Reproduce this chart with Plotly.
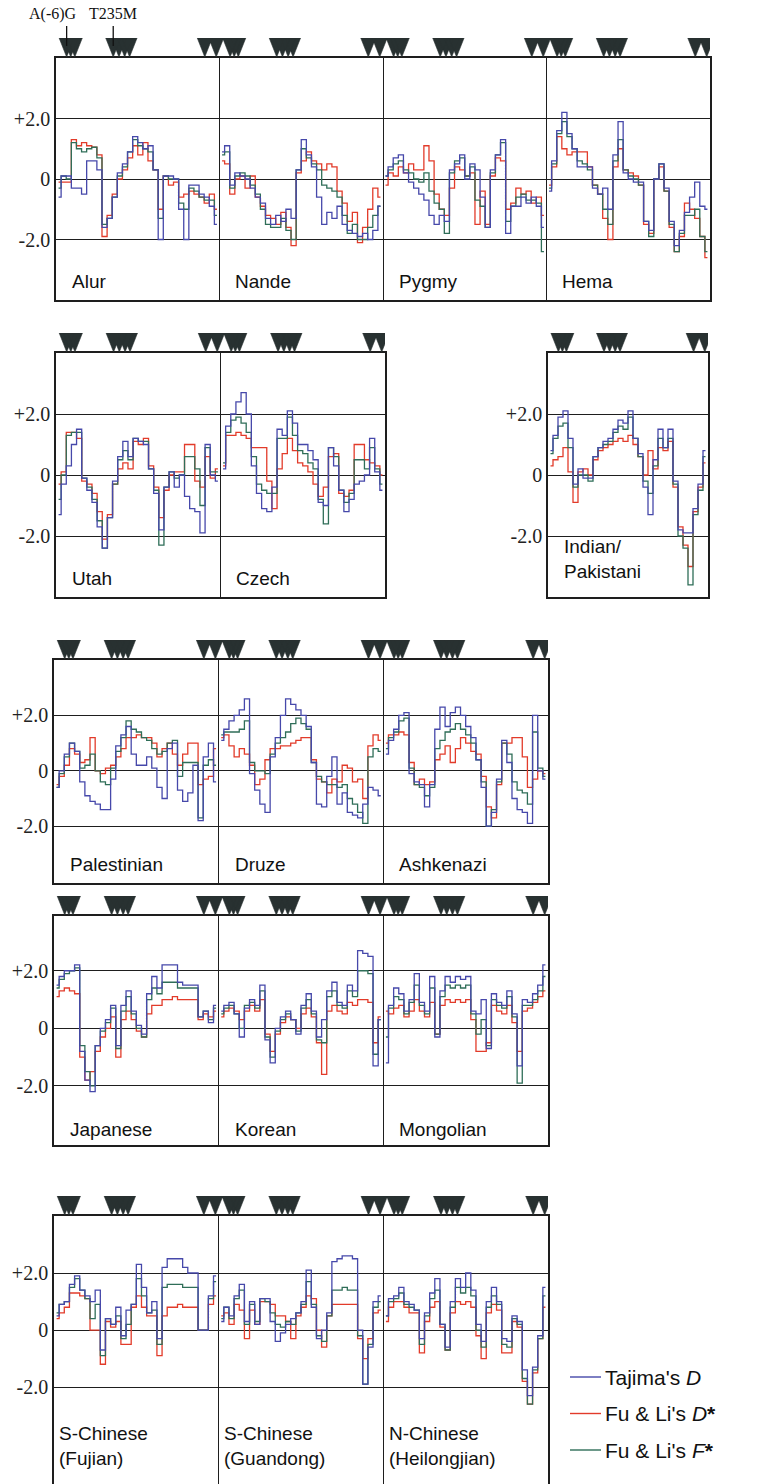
import plotly.graph_objects as go

W, H = 759, 1484

# ---------------- data ----------------
ALUR_T = [-0.6,0.1,0.1,-0.3,-0.3,-0.5,0.6,0.6,0.3,-1.6,-1.3,-0.6,0.2,0.5,0.9,1.4,1.2,1.0,1.1,0.3,-2.0,0.1,0.1,0.0,-1.0,-2.0,-0.2,-0.2,-0.5,-0.6,-0.9,-1.5]
ALUR_D = [-0.1,-0.1,-0.1,1.3,1.1,1.2,1.1,1.05,0.8,-1.9,-1.2,-0.5,0.0,0.3,0.7,1.1,0.8,1.2,0.6,0.3,-1.0,0.1,-0.2,-0.1,-0.6,-0.5,-0.4,-0.5,-0.6,-0.8,-0.5,-1.0]
ALUR_F = [-0.3,0.1,0.0,1.2,1.0,0.9,1.0,1.05,0.7,-1.5,-1.3,-0.6,0.1,0.4,0.9,1.3,1.1,1.0,0.9,0.3,-1.3,0.1,0.0,0.0,-0.8,-1.0,-0.3,-0.4,-0.6,-0.7,-0.7,-1.2]

NANDE_T = [0.9,1.1,-0.2,0.2,0.1,0.0,-0.3,-0.6,-0.8,-1.3,-1.5,-1.2,-1.4,-1.0,-1.3,0.3,1.3,0.8,0.4,-0.6,-1.5,-1.1,-1.3,-0.9,-1.5,-1.7,-1.8,-1.9,-1.8,-2.0,-1.7,-0.9]
NANDE_D = [0.6,0.5,-0.5,0.0,0.1,-0.3,0.1,-0.6,-0.9,-1.2,-1.3,-1.5,-1.1,-1.6,-2.2,0.2,0.6,0.9,0.6,0.5,0.3,0.5,0.4,-0.4,-0.8,-1.4,-1.1,-2.1,-1.6,-1.0,-0.3,-0.6]
NANDE_F = [0.8,0.9,-0.3,0.1,0.2,0.1,-0.2,-0.5,-1.0,-1.5,-1.6,-1.6,-1.3,-1.7,-2.0,0.3,1.0,0.7,0.5,0.3,-0.2,-0.3,-0.4,-0.6,-1.2,-1.8,-1.5,-2.0,-2.0,-1.6,-1.2,-0.9]

PYGMY_T = [0.1,0.4,0.7,0.8,0.2,-0.1,-0.3,-0.5,-0.7,-1.2,-1.5,-1.2,-1.4,0.3,0.5,0.8,0.0,0.5,0.3,-0.6,-1.6,0.3,0.8,1.3,-1.8,-0.9,-0.9,-0.6,-0.8,-0.6,-0.9,-1.6]
PYGMY_D = [-0.2,0.2,0.1,0.4,0.2,0.5,0.3,0.3,1.1,0.6,-0.5,-1.0,-1.2,-0.3,0.4,0.3,0.1,0.2,-1.5,-0.4,-1.5,0.1,0.7,0.6,-1.0,-0.8,-0.3,-0.5,-0.4,-0.8,-0.6,-1.2]
PYGMY_F = [0.1,0.3,0.5,0.6,0.3,0.2,0.0,-0.1,0.2,-0.4,-0.8,-1.0,-1.8,0.2,0.6,0.7,0.1,0.4,-0.7,-0.9,-1.6,0.2,0.8,1.2,-1.4,-0.9,-0.6,-0.5,-0.7,-0.7,-0.8,-2.4]

HEMA_T = [-0.4,0.6,1.6,2.2,1.5,1.0,0.4,0.4,0.4,-0.3,-0.5,-0.3,-1.0,0.8,1.9,0.2,0.0,-0.1,-0.1,-1.4,-1.7,0.0,0.5,-0.3,-1.4,-2.2,-1.7,-1.1,-0.6,-0.1,-0.9,-1.0]
HEMA_D = [-0.2,0.4,1.4,1.0,0.8,0.9,0.9,0.9,0.4,-0.2,-0.5,-1.3,-2.0,0.4,1.0,0.3,0.2,0.1,-0.2,-1.5,-1.8,0.0,0.4,-0.4,-1.6,-2.4,-1.9,-0.8,-1.0,-1.3,-1.9,-2.6]
HEMA_F = [-0.3,0.5,1.5,1.9,1.4,1.0,0.6,0.5,0.3,-0.2,-0.5,-1.0,-1.5,0.6,1.3,0.3,0.1,0.0,-0.2,-1.4,-1.9,0.0,0.5,-0.4,-1.5,-2.4,-1.8,-1.2,-1.2,-1.0,-1.9,-2.4]

UTAH_T = [-1.3,-0.3,0.3,1.0,1.5,-0.1,-0.5,-0.9,-1.7,-2.4,-1.4,-0.2,0.6,1.1,0.6,1.2,1.1,1.0,0.2,-0.6,-1.8,-0.4,0.1,-0.4,0.0,-0.7,-1.1,-1.2,-1.9,1.0,0.0,-0.2]
UTAH_D = [-0.3,0.1,1.4,1.4,1.2,-0.2,-0.3,-0.6,-1.2,-2.1,-1.3,-0.3,0.2,0.4,0.2,1.1,1.0,1.2,0.3,-0.4,-1.4,-0.5,0.0,0.1,0.1,1.0,1.0,-0.2,-0.4,0.6,-0.1,0.2]
UTAH_F = [-0.8,0.0,1.3,1.4,1.4,-0.1,-0.4,-0.8,-1.5,-2.4,-1.4,-0.3,0.5,0.8,0.5,1.2,1.1,1.1,0.2,-0.5,-2.3,-0.4,0.1,-0.1,0.0,0.6,0.6,0.2,-1.0,0.9,0.1,0.1]

CZECH_T = [0.2,1.6,2.0,2.4,2.7,2.0,0.3,-0.6,-1.1,-1.2,-0.4,1.5,1.3,2.1,1.7,1.0,1.0,0.8,0.5,-0.9,-1.0,0.9,0.3,-0.5,-1.2,-0.8,-0.3,-0.2,0.0,1.2,0.1,-0.5]
CZECH_D = [0.3,1.3,1.3,1.4,1.3,1.2,0.9,0.9,0.9,-0.2,-1.1,0.2,0.7,1.2,0.8,0.4,0.3,0.1,-0.3,-0.7,-0.4,0.6,0.7,-0.6,-0.7,-0.5,1.0,1.0,0.5,0.4,0.3,0.0]
CZECH_F = [0.4,1.4,1.8,1.9,1.7,1.4,0.6,-0.3,-0.5,-0.6,-0.6,1.2,1.2,1.9,1.3,0.8,0.7,0.4,0.2,-0.8,-1.6,0.9,0.6,-0.5,-0.9,-0.6,0.5,0.5,0.2,0.9,0.2,-0.3]

INDIAN_T = [0.8,1.3,1.9,2.1,1.2,-0.3,0.2,-0.1,-0.1,0.6,0.9,1.1,1.2,1.5,1.8,1.7,2.1,1.2,0.7,-0.4,-1.3,0.5,1.5,0.9,1.5,-0.2,-1.8,-1.9,-1.9,-1.1,-0.3,0.8]
INDIAN_D = [0.3,0.5,0.6,0.9,0.1,-0.9,0.1,0.2,0.0,0.5,0.8,0.9,1.0,1.1,1.2,1.1,1.3,1.0,0.6,0.0,0.8,0.2,0.9,0.8,1.1,-0.4,-1.7,-2.3,-3.0,-1.2,-0.4,0.4]
INDIAN_F = [0.7,1.2,1.6,1.7,0.9,-0.4,0.0,0.0,-0.2,0.6,0.9,1.0,1.1,1.4,1.6,1.5,1.9,1.2,0.6,-0.2,-0.6,0.3,1.2,0.9,1.2,-0.3,-2.0,-2.4,-3.6,-1.3,-0.5,0.6]

PALEST_T = [-0.6,0.0,0.6,1.0,0.7,-0.4,-0.9,-1.1,-1.2,-1.4,-1.4,-0.3,0.9,1.3,1.6,0.6,0.2,0.2,0.5,0.1,-0.6,-1.0,0.8,1.0,-0.7,-1.1,-0.8,0.2,-1.8,0.5,1.0,-0.4]
PALEST_D = [-0.5,-0.2,0.2,0.8,0.6,0.3,0.4,1.2,0.0,-0.1,0.1,0.2,0.5,0.8,1.2,1.2,1.3,1.2,1.2,1.0,0.5,0.8,1.0,0.6,0.2,0.6,1.0,1.0,-0.5,-0.3,-0.2,0.8]
PALEST_F = [-0.6,-0.1,0.5,1.0,0.7,0.1,0.2,0.6,0.0,-0.4,-0.5,0.1,0.7,1.2,1.8,1.5,1.4,1.2,1.1,0.8,0.6,0.7,1.0,1.1,-0.2,0.3,0.3,0.3,-1.7,0.2,0.4,0.2]

DRUZE_T = [1.1,1.5,1.8,2.0,2.2,2.6,-0.1,-0.7,-1.2,-1.5,0.5,1.2,2.0,2.6,2.4,2.2,2.0,1.6,0.3,-1.2,-1.3,-0.2,0.5,-1.2,-0.8,-1.5,-1.6,-1.7,-1.2,-0.6,-0.7,-0.9]
DRUZE_D = [1.2,1.3,0.9,0.5,0.8,0.6,0.2,-0.5,-0.3,0.4,0.8,0.8,0.9,0.9,1.0,1.1,1.2,1.2,0.4,-0.3,-0.4,-0.8,-0.3,-0.4,0.2,0.1,-0.4,-0.3,-1.0,0.9,1.3,1.1]
DRUZE_F = [1.3,1.4,1.4,1.4,1.5,1.8,0.3,0.0,0.0,-0.1,0.6,1.0,1.2,1.4,1.7,1.9,1.7,1.5,0.3,-0.2,-0.4,-0.5,-0.5,-0.6,-0.5,-1.0,-1.2,-1.5,-1.9,0.5,0.8,0.7]

ASHK_T = [0.6,1.1,1.5,2.0,2.1,-0.1,-0.4,-0.5,-1.3,-0.5,1.5,2.3,1.6,2.1,2.3,2.0,1.6,1.2,0.4,-0.6,-2.0,-1.5,-0.3,1.1,0.3,-1.0,-1.4,-1.5,-1.9,2.0,0.0,-0.3]
ASHK_D = [1.0,1.3,1.3,1.4,1.3,0.3,-0.5,-0.3,-0.5,-0.4,0.4,0.6,0.9,0.3,0.8,1.2,1.0,0.7,0.6,-0.2,-1.3,-1.7,-0.5,1.0,1.0,1.2,1.2,0.5,-0.6,-0.3,0.0,-0.1]
ASHK_F = [0.8,1.2,1.4,1.8,1.9,0.1,-0.5,-0.6,-0.9,-0.6,0.8,1.1,1.4,1.5,1.7,1.5,1.3,1.0,0.4,-0.4,-2.0,-1.4,-0.4,1.0,0.6,-0.4,-0.7,-0.8,-1.2,1.4,0.1,-0.2]

JAPAN_T = [1.5,1.8,2.0,2.0,2.2,-0.8,-1.8,-2.2,-0.6,0.0,0.3,0.8,-0.6,0.8,1.3,0.6,0.1,-0.2,1.2,1.8,1.4,2.2,2.2,2.2,1.6,1.5,1.5,1.5,0.4,0.6,0.2,0.8]
JAPAN_D = [1.1,1.3,1.4,1.3,1.2,-1.0,-1.8,-1.5,-0.8,-0.3,0.0,0.4,-1.0,0.3,0.6,0.3,-0.1,-0.3,0.5,0.8,0.8,1.0,1.0,1.1,1.0,1.0,1.0,1.0,0.3,0.5,0.4,0.6]
JAPAN_F = [1.4,1.7,1.9,2.0,2.1,-0.6,-1.5,-2.0,-0.6,-0.1,0.2,0.7,-0.7,0.6,1.1,0.5,0.0,-0.3,1.0,1.4,1.2,1.6,1.6,1.6,1.4,1.4,1.4,1.4,0.4,0.6,0.3,0.7]

KOREA_T = [0.6,0.8,0.9,0.5,-0.3,0.7,1.0,0.8,1.5,-0.4,-1.2,0.0,0.4,0.6,0.3,-0.2,0.8,1.2,0.6,-0.3,0.3,1.3,1.6,0.9,0.8,1.5,1.3,2.7,2.6,2.5,-1.3,0.3]
KOREA_D = [0.4,0.6,0.7,0.6,0.3,0.6,0.8,0.6,1.0,-0.2,-0.8,-0.2,0.2,0.4,0.3,0.0,0.5,0.7,0.4,-0.5,-1.6,0.6,0.8,0.6,0.5,0.9,0.8,1.0,1.0,0.9,-0.5,0.4]
KOREA_F = [0.5,0.7,0.8,0.5,0.0,0.8,0.9,0.7,1.3,-0.3,-1.0,-0.1,0.3,0.5,0.3,-0.1,0.7,1.0,0.5,-0.4,-0.5,1.1,1.3,0.8,0.7,1.3,1.1,2.0,2.0,1.9,-0.9,0.3]

MONGO_T = [-1.2,0.8,1.4,1.2,0.6,1.0,1.9,0.9,0.6,1.8,-0.3,1.3,1.8,1.6,1.8,1.7,1.8,0.6,0.5,1.0,-0.7,1.2,0.9,0.8,1.3,0.5,-1.3,1.0,0.9,1.2,1.5,2.2]
MONGO_D = [0.6,0.5,0.7,0.8,0.4,0.6,1.0,0.6,0.4,0.9,-0.2,0.8,1.0,0.9,1.0,0.9,1.0,0.3,-0.8,-0.8,-0.5,0.8,0.6,0.5,0.8,0.2,-0.8,0.6,0.7,0.9,1.1,1.3]
MONGO_F = [-0.3,0.7,1.1,1.0,0.5,0.9,1.5,0.8,0.5,1.4,-0.2,1.1,1.5,1.4,1.5,1.4,1.5,0.5,-0.2,0.3,-0.6,1.0,0.8,0.7,1.1,0.4,-1.9,0.8,0.8,1.0,1.3,1.8]

FUJIAN_T = [0.5,0.9,1.0,1.6,1.9,1.4,1.2,1.0,1.4,-0.7,0.4,0.2,0.8,-0.2,0.7,0.9,2.3,1.5,0.6,1.0,-0.3,2.2,2.5,2.5,2.5,2.2,2.0,2.0,0.0,0.0,1.2,1.9]
FUJIAN_D = [0.4,0.6,0.8,1.3,1.3,1.2,1.1,0.0,0.0,-1.2,0.3,0.1,0.3,-0.5,-0.5,0.8,1.2,0.8,0.5,0.5,-0.9,0.5,0.8,0.8,0.9,0.8,0.8,0.8,0.0,0.0,0.9,1.2]
FUJIAN_F = [0.6,0.9,1.0,1.5,1.8,1.4,1.1,0.4,0.9,-0.9,0.4,0.2,0.5,-0.3,0.2,0.9,1.8,1.2,0.6,0.7,-0.5,1.5,1.6,1.6,1.6,1.5,1.5,1.5,0.0,0.0,1.1,1.7]

GUAND_T = [0.3,0.8,0.5,1.2,1.6,0.3,1.0,0.2,1.1,1.1,0.3,-0.4,-0.1,0.2,0.4,0.6,1.0,2.1,0.8,-0.3,0.0,0.6,2.4,2.5,2.6,2.6,2.5,0.0,-1.9,-0.6,1.0,1.2]
GUAND_D = [0.5,0.6,0.2,0.9,0.7,-0.3,0.7,0.2,1.0,1.0,0.9,0.5,0.5,0.3,-0.3,0.5,0.8,1.2,1.1,0.0,-0.6,0.5,0.9,0.9,0.9,0.9,0.9,-0.3,-1.0,-0.3,0.6,0.7]
GUAND_F = [0.4,0.8,0.4,1.1,1.4,0.2,0.9,0.3,1.1,1.0,0.6,0.2,0.1,0.3,0.2,0.6,0.9,1.7,0.9,-0.2,-0.4,0.5,1.4,1.4,1.5,1.4,1.4,-0.2,-1.9,-0.5,0.8,1.0]

HEILO_T = [0.5,1.1,1.2,1.5,1.0,0.9,0.7,-0.3,0.6,1.3,1.8,0.2,-0.6,1.0,1.8,1.5,2.0,1.4,0.2,-0.4,1.0,1.5,1.0,-0.3,-0.4,0.5,0.3,-1.4,-2.3,-1.3,-0.2,1.5]
HEILO_D = [0.3,0.8,1.0,1.0,0.8,0.6,0.6,-0.8,0.3,0.8,1.0,0.1,-0.7,0.6,1.0,0.9,1.0,0.8,-0.2,-1.0,0.6,0.9,0.7,-0.8,-0.8,0.3,0.1,-1.8,-2.6,-1.5,-0.3,0.8]
HEILO_F = [0.5,1.0,1.1,1.3,0.9,0.8,0.7,-0.5,0.5,1.1,1.4,0.2,-0.7,0.8,1.5,1.3,1.5,1.2,0.0,-0.6,0.8,1.2,0.9,-0.5,-0.6,0.4,0.2,-1.7,-2.6,-1.4,-0.3,1.2]

# SNP marker positions along each population window (fraction of panel)
SNP_POS = [0.065, 0.09, 0.115, 0.35, 0.385, 0.42, 0.45, 0.91, 0.98]
SNP_NAMES = [("A(-6)G", 0.065), ("T235M", 0.35)]
YTICK_VALS = [-2, 0, 2]
YTICK_TEXT = ["-2.0", "0", "+2.0"]
SERIES_NAMES = ["Tajima's <i>D</i>", "Fu & Li's <i>D</i><b>*</b>", "Fu & Li's <i>F</i><b>*</b>"]

# ---------------- styles / geometry ----------------
BLUE, RED, GREEN = "#4648aa", "#e23b2a", "#2f6e58"
TRI_COLOR = "#283131"
FRAME = "#1e1e1e"
SANS = "Liberation Sans, Arial, sans-serif"
SERIF = "Liberation Serif, Times New Roman, serif"

ROWS = [
    dict(pops=[("Alur", ALUR_T, ALUR_D, ALUR_F), ("Nande", NANDE_T, NANDE_D, NANDE_F),
               ("Pygmy", PYGMY_T, PYGMY_D, PYGMY_F), ("Hema", HEMA_T, HEMA_D, HEMA_F)],
         x0=56, x1=710, top=58, bottom=300, yr=(-4, 4), lab_y=-3.4, lab_dx=0.085),
    dict(pops=[("Utah", UTAH_T, UTAH_D, UTAH_F), ("Czech", CZECH_T, CZECH_D, CZECH_F)],
         x0=56, x1=385, top=353, bottom=597, yr=(-4, 4), lab_y=-3.4, lab_dx=0.085),
    dict(pops=[("Indian/<br>Pakistani", INDIAN_T, INDIAN_D, INDIAN_F)],
         x0=548, x1=708, top=353, bottom=597, yr=(-4, 4), lab_y=-2.75, lab_dx=0.09),
    dict(pops=[("Palestinian", PALEST_T, PALEST_D, PALEST_F), ("Druze", DRUZE_T, DRUZE_D, DRUZE_F),
               ("Ashkenazi", ASHK_T, ASHK_D, ASHK_F)],
         x0=54, x1=548, top=660, bottom=883, yr=(-4.05, 4), lab_y=-3.4, lab_dx=0.085),
    dict(pops=[("Japanese", JAPAN_T, JAPAN_D, JAPAN_F), ("Korean", KOREA_T, KOREA_D, KOREA_F),
               ("Mongolian", MONGO_T, MONGO_D, MONGO_F)],
         x0=54, x1=548, top=916, bottom=1145, yr=(-4.05, 3.9), lab_y=-3.5, lab_dx=0.085),
    dict(pops=[("S-Chinese<br>(Fujian)", FUJIAN_T, FUJIAN_D, FUJIAN_F),
               ("S-Chinese<br>(Guandong)", GUAND_T, GUAND_D, GUAND_F),
               ("N-Chinese<br>(Heilongjian)", HEILO_T, HEILO_D, HEILO_F)],
         x0=54, x1=548, top=1216, bottom=1484, yr=(-5.4, 4), lab_y=-4.05, lab_dx=0.02),
]

TRI_H = 19      # px height of SNP triangles
TRI_HALF = 7.5  # px half width of SNP triangles

fig = go.Figure()
layout = dict(width=W, height=H, margin=dict(l=0, r=0, t=0, b=0),
              paper_bgcolor="white", plot_bgcolor="white", showlegend=False)
annotations, shapes = [], []

def ax_name(n, kind):
    return f"{kind}axis" if n == 1 else f"{kind}axis{n}"

def ref(n, kind):
    return kind if n == 1 else f"{kind}{n}"

for r, row in enumerate(ROWS):
    m, t = 2 * r + 1, 2 * r + 2
    n = len(row["pops"])
    dom_x = [row["x0"] / W, row["x1"] / W]
    dom_y = [max(0.0, 1 - row["bottom"] / H), 1 - row["top"] / H]
    layout[ax_name(m, "x")] = dict(domain=dom_x, range=[0, n], anchor=ref(m, "y"),
                                   showline=True, mirror=True, linecolor=FRAME, linewidth=1.7,
                                   tickvals=list(range(1, n)), showticklabels=False, ticks="",
                                   showgrid=True, gridcolor=FRAME, gridwidth=1.4, zeroline=False,
                                   fixedrange=True)
    layout[ax_name(m, "y")] = dict(domain=dom_y, range=list(row["yr"]), anchor=ref(m, "x"),
                                   showline=True, mirror=True, linecolor=FRAME, linewidth=1.7,
                                   tickvals=YTICK_VALS, ticktext=YTICK_TEXT, ticks="",
                                   ticklabelstandoff=0,
                                   tickfont=dict(family=SERIF, size=20, color="#222"),
                                   showgrid=True, gridcolor=FRAME, gridwidth=1.4, zeroline=False,
                                   fixedrange=True)
    # triangle strip above the frame
    layout[ax_name(t, "x")] = dict(domain=dom_x, range=[0, n], anchor=ref(t, "y"),
                                   visible=False, fixedrange=True)
    layout[ax_name(t, "y")] = dict(domain=[1 - (row["top"] - 1) / H, 1 - (row["top"] - 1 - TRI_H) / H],
                                   range=[0, 1], anchor=ref(t, "x"), visible=False, fixedrange=True)

    panel_px = (row["x1"] - row["x0"]) / n
    hw = TRI_HALF / panel_px
    tx, ty = [], []
    for p in range(n):
        for s in SNP_POS:
            c = p + s
            tx += [c - hw, c + hw, c, c - hw, None]
            ty += [1, 1, 0, 1, None]
    fig.add_trace(go.Scatter(x=tx, y=ty, xaxis=ref(t, "x"), yaxis=ref(t, "y"), mode="lines",
                             fill="toself", fillcolor=TRI_COLOR,
                             line=dict(color=TRI_COLOR, width=0.6), hoverinfo="skip"))

    # the three statistics, one trace per statistic per row (gaps between populations)
    for idx, color in ((2, RED), (3, GREEN), (1, BLUE)):
        xs, ys = [], []
        for p, pop in enumerate(row["pops"]):
            vals = pop[idx]
            k = len(vals)
            xs += [p + (i + 0.5) / k for i in range(k)] + [None]
            ys += list(vals) + [None]
        fig.add_trace(go.Scatter(x=xs, y=ys, xaxis=ref(m, "x"), yaxis=ref(m, "y"), mode="lines",
                                 line=dict(color=color, width=1.3, shape="hvh"),
                                 connectgaps=False, hoverinfo="skip"))

    for p, pop in enumerate(row["pops"]):
        annotations.append(dict(x=p + row["lab_dx"], y=row["lab_y"], xref=ref(m, "x"), yref=ref(m, "y"),
                                text=pop[0], showarrow=False, xanchor="left", yanchor="middle",
                                align="left", font=dict(family=SANS, size=19, color="#111")))

# SNP names with arrows (first row, first population)
for name, pos in SNP_NAMES:
    shapes.append(dict(type="line", xref="x2", yref="paper", x0=pos, x1=pos,
                       y0=1 - 26 / H, y1=1 - 46 / H, line=dict(color="#111", width=1.3)))
    annotations.append(dict(x=pos, y=1 - 14 / H, xref="x2", yref="paper", text=name,
                            showarrow=False, xanchor="center", yanchor="middle",
                            xshift=-14 if name.startswith("A") else 0,
                            font=dict(family=SERIF, size=16, color="#111")))

# custom legend
for i, (name, color) in enumerate(zip(SERIES_NAMES, (BLUE, RED, GREEN))):
    yp = 1377 + 36.5 * i
    shapes.append(dict(type="line", xref="paper", yref="paper", x0=570 / W, x1=601 / W,
                       y0=1 - yp / H, y1=1 - yp / H, line=dict(color=color, width=1.4)))
    annotations.append(dict(x=603 / W, y=1 - yp / H, xref="paper", yref="paper", text=name,
                            showarrow=False, xanchor="left", yanchor="middle",
                            font=dict(family=SANS, size=21, color="#111")))

layout["annotations"] = annotations
layout["shapes"] = shapes
fig.update_layout(**layout)
fig.write_html("out.html", post_script="document.body.style.margin='0px';",
               config={"displayModeBar": False})
